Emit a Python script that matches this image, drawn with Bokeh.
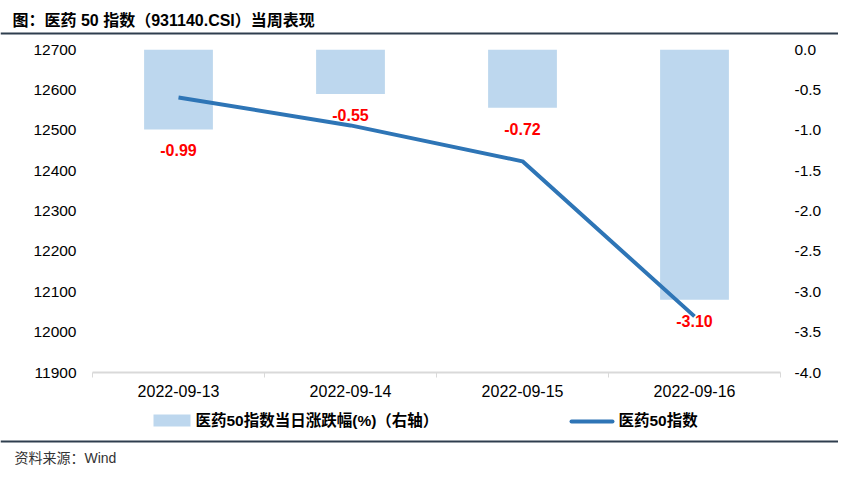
from bokeh.plotting import figure
from bokeh.models import (Range1d, LinearAxis, FixedTicker, ColumnDataSource,
                          NumeralTickFormatter)
from bokeh.layouts import column
from bokeh.core.properties import value
from bokeh.embed import file_html
from bokeh.resources import INLINE

dates = ["2022-09-13", "2022-09-14", "2022-09-15", "2022-09-16"]
index_values = [12581, 12512, 12423, 12039]
pct_change = [-0.99, -0.55, -0.72, -3.10]
pct_labels = ["-0.99", "-0.55", "-0.72", "-3.10"]
left_ticks = [11900, 12000, 12100, 12200, 12300, 12400, 12500, 12600, 12700]
right_ticks = [-4.0, -3.5, -3.0, -2.5, -2.0, -1.5, -1.0, -0.5, 0.0]

title_text = "图：医药 50 指数（931140.CSI）当周表现"
source_text = "资料来源：Wind"
bar_legend = "医药50指数当日涨跌幅(%)（右轴）"
line_legend = "医药50指数"

FONT = "Liberation Sans, Arial, Noto Sans CJK SC"
BAR_COLOR = "#BDD7EE"
LINE_COLOR = "#2E75B6"
RULE_COLOR = "#2F3E4E"
W = 838
H_HEAD, H_MAIN, H_FOOT = 38, 366, 62   # header 0-38, main 38-404, footer 404-466


def blank_fig(h):
    f = figure(width=W, height=h, output_backend="svg", toolbar_location=None,
               x_range=Range1d(0, W), y_range=Range1d(h, 0),
               x_axis_type=None, y_axis_type=None,
               min_border=0, min_border_left=0, min_border_right=0,
               min_border_top=0, min_border_bottom=0)
    f.outline_line_color = None
    f.grid.visible = False
    f.frame_align = False
    return f


# ---------- header ----------
head = blank_fig(H_HEAD)
head.text(x=[12], y=[20], text=[title_text], text_font=value(FONT),
          text_font_style="bold", text_font_size="16px", text_baseline="middle",
          text_color="black")
head.line(x=[0, W], y=[33, 33], line_color=RULE_COLOR, line_width=2)

# ---------- main chart ----------
xs = list(range(1, len(dates) + 1))
src = ColumnDataSource(dict(x=xs, idx=index_values, pct=pct_change, lab=pct_labels,
                            zero=[0] * len(xs)))

p = figure(width=W, height=H_MAIN, output_backend="svg", toolbar_location=None,
           x_range=Range1d(0.5, len(dates) + 0.5), y_range=Range1d(11900, 12700),
           min_border_left=92, min_border_right=58, min_border_top=11, min_border_bottom=32)
p.outline_line_color = None
p.grid.visible = False
p.frame_align = False
p.extra_y_ranges = {"pct": Range1d(-4.0, 0.0)}

p.vbar(x="x", top="zero", bottom="pct", width=0.4, source=src, y_range_name="pct",
       fill_color=BAR_COLOR, line_color=None)
p.line(x="x", y="idx", source=src, line_color=LINE_COLOR, line_width=4)
p.text(x="x", y="pct", text="lab", source=src, y_range_name="pct", y_offset=21,
       text_color="#FF0000", text_font=value(FONT), text_font_style="bold",
       text_font_size="16px", text_align="center", text_baseline="middle")

xa = p.xaxis[0]
xa.ticker = FixedTicker(ticks=xs, minor_ticks=[i + 0.5 for i in range(0, len(dates) + 1)])
xa.major_label_overrides = {x: d for x, d in zip(xs, dates)}
xa.major_tick_out = 0
xa.major_tick_in = 0
xa.minor_tick_out = 5
xa.minor_tick_in = 0
xa.minor_tick_line_color = "#D9D9D9"
xa.axis_line_color = "#D9D9D9"
xa.axis_line_width = 2
xa.major_label_text_font = FONT
xa.major_label_text_font_size = "16px"
xa.major_label_text_color = "black"
xa.major_label_standoff = 7

ya = p.yaxis[0]
ya.ticker = FixedTicker(ticks=left_ticks)
ya.axis_line_color = None
ya.major_tick_line_color = None
ya.minor_tick_line_color = None
ya.major_label_text_font = FONT
ya.major_label_text_font_size = "15.5px"
ya.major_label_text_color = "black"
ya.major_label_standoff = 10

ra = LinearAxis(y_range_name="pct", ticker=FixedTicker(ticks=right_ticks),
                formatter=NumeralTickFormatter(format="0.0"))
ra.axis_line_color = None
ra.major_tick_line_color = None
ra.minor_tick_line_color = None
ra.major_label_text_font = FONT
ra.major_label_text_font_size = "15.5px"
ra.major_label_text_color = "black"
ra.major_label_standoff = 8
p.add_layout(ra, "right")

# ---------- footer (legend, rule, source) ----------
foot = blank_fig(H_FOOT)
foot.quad(left=[153], right=[190], top=[10], bottom=[22], fill_color=BAR_COLOR,
          line_color=None)
foot.text(x=[195], y=[16], text=[bar_legend], text_font=value(FONT),
          text_font_style="bold", text_font_size="15.5px", text_baseline="middle",
          text_color="black")
foot.line(x=[571, 612], y=[17, 17], line_color=LINE_COLOR, line_width=4,
          line_cap="round")
foot.text(x=[618], y=[16], text=[line_legend], text_font=value(FONT),
          text_font_style="bold", text_font_size="15.5px", text_baseline="middle",
          text_color="black")
foot.line(x=[0, W], y=[37, 37], line_color=RULE_COLOR, line_width=2)
foot.text(x=[14], y=[53], text=[source_text], text_font=value(FONT),
          text_font_size="14px", text_baseline="middle", text_color="#333333")

layout = column(head, p, foot, spacing=0)
open("out.html", "w").write(file_html(layout, INLINE))
